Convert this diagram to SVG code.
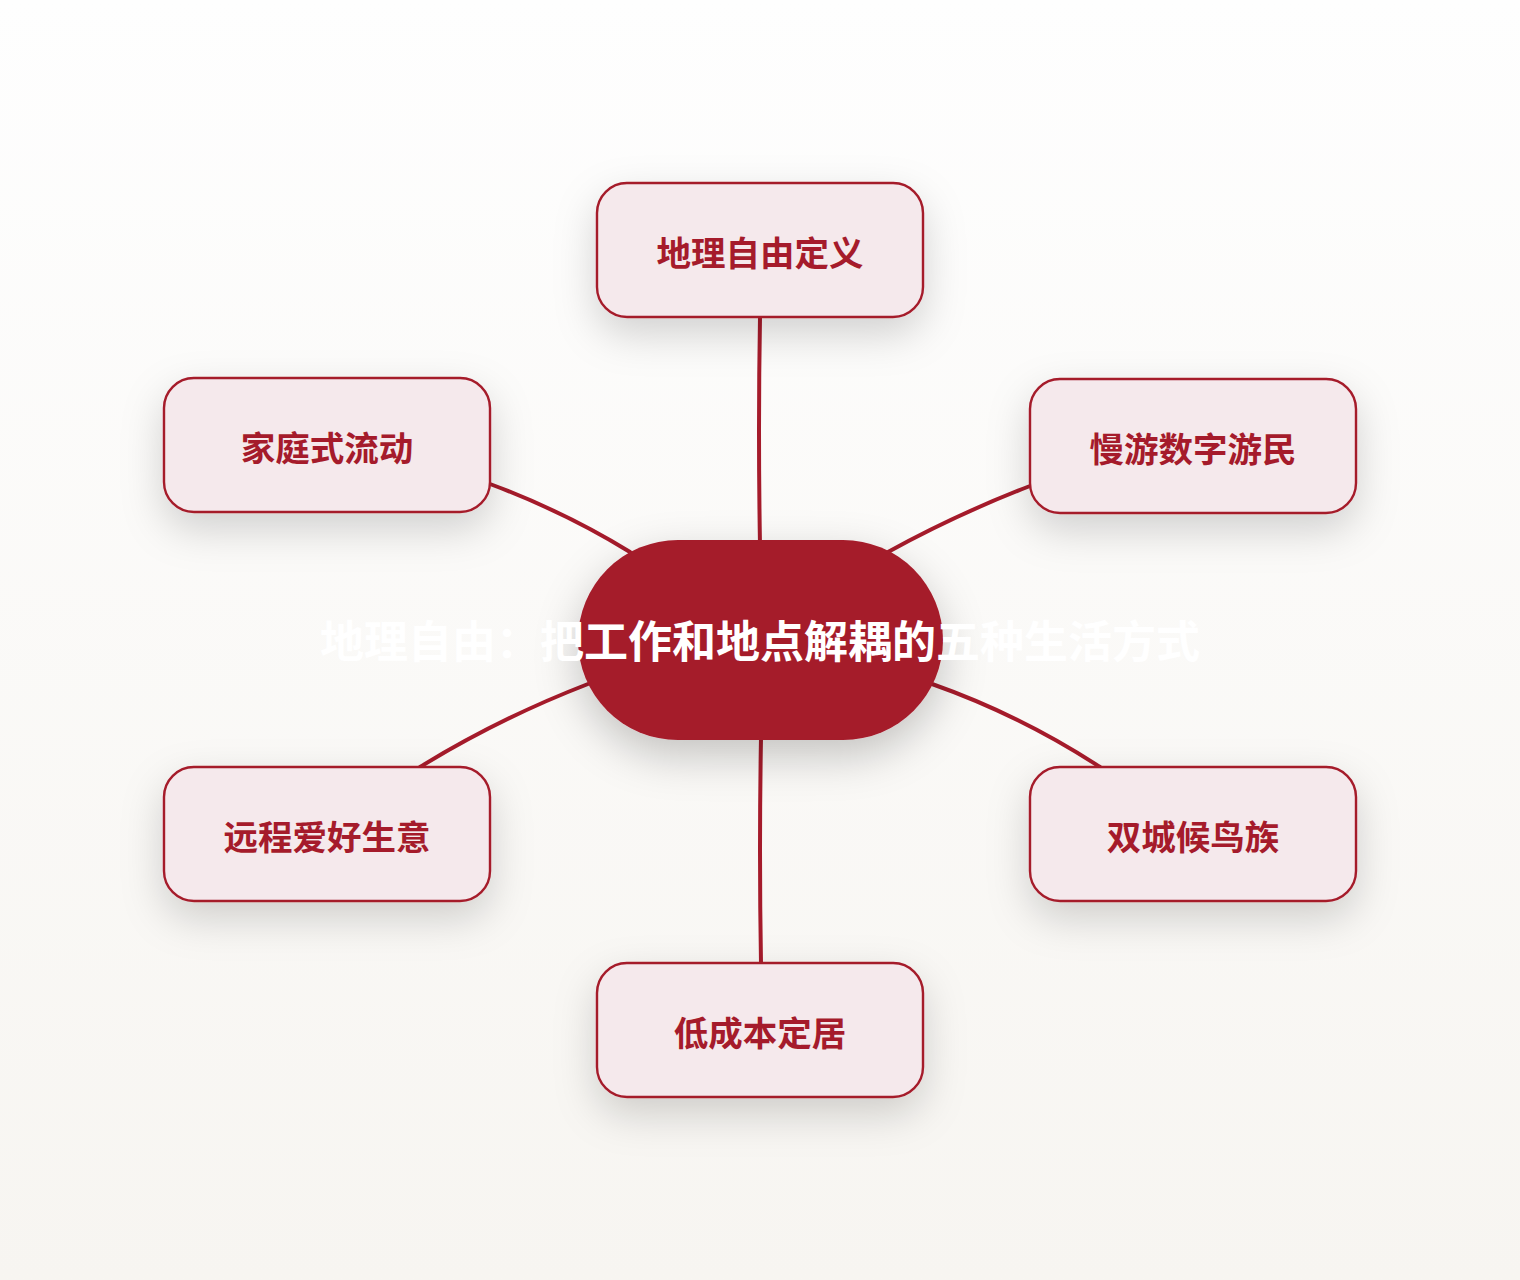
<svg xmlns="http://www.w3.org/2000/svg" width="1520" height="1280" viewBox="0 0 1520 1280">
<defs>
<linearGradient id="bg" x1="0" y1="0" x2="0" y2="1">
<stop offset="0" stop-color="#fefefe"/>
<stop offset="1" stop-color="#f7f5f1"/>
</linearGradient>
<filter id="sh" x="-40%" y="-50%" width="180%" height="210%">
<feDropShadow dx="0" dy="16" stdDeviation="20" flood-color="#000" flood-opacity="0.17"/>
</filter>
<filter id="shc" x="-40%" y="-50%" width="180%" height="210%">
<feDropShadow dx="0" dy="16" stdDeviation="22" flood-color="#000" flood-opacity="0.22"/>
</filter>
</defs>
<style>
.edge{fill:none;stroke:#a51b2b;stroke-width:4;stroke-linecap:round}
.box{fill:#f5e9ec;stroke:#a51b2b;stroke-width:2.4}
.lbl{font-family:"Noto Sans CJK SC","Noto Sans",sans-serif;font-weight:700;font-size:34.5px;fill:#a51b2b;text-anchor:middle}
.ctr{font-family:"Noto Sans CJK SC","Noto Sans",sans-serif;font-weight:700;font-size:44px;fill:#ffffff;text-anchor:middle}
</style>
<rect x="0" y="0" width="1520" height="1280" fill="url(#bg)"/>
<g id="connectors">
<path class="edge" d="M760 317 Q758 430 760 545"/>
<path class="edge" d="M490 484 Q565 512 630 552"/>
<path class="edge" d="M1030 486 Q955 515 888 552"/>
<path class="edge" d="M420 767 Q500 718 588 684"/>
<path class="edge" d="M1100 767 Q1020 715 932 684"/>
<path class="edge" d="M761 738 Q759 850 761 963"/>
</g>
<g id="node-top">
<rect class="box" x="597" y="183" width="326" height="134" rx="30" filter="url(#sh)"/>
<text class="lbl" x="760" y="266">地理自由定义</text>
</g>
<g id="node-left-top">
<rect class="box" x="164" y="378" width="326" height="134" rx="30" filter="url(#sh)"/>
<text class="lbl" x="327" y="461">家庭式流动</text>
</g>
<g id="node-right-top">
<rect class="box" x="1030" y="379" width="326" height="134" rx="30" filter="url(#sh)"/>
<text class="lbl" x="1193" y="462">慢游数字游民</text>
</g>
<g id="node-left-bottom">
<rect class="box" x="164" y="767" width="326" height="134" rx="30" filter="url(#sh)"/>
<text class="lbl" x="327" y="850">远程爱好生意</text>
</g>
<g id="node-right-bottom">
<rect class="box" x="1030" y="767" width="326" height="134" rx="30" filter="url(#sh)"/>
<text class="lbl" x="1193" y="850">双城候鸟族</text>
</g>
<g id="node-bottom">
<rect class="box" x="597" y="963" width="326" height="134" rx="30" filter="url(#sh)"/>
<text class="lbl" x="760" y="1046">低成本定居</text>
</g>
<g id="node-center">
<rect x="578" y="540" width="365" height="200" rx="100" fill="#a51b2b" filter="url(#shc)"/>
<text class="ctr" x="760" y="658">地理自由：把工作和地点解耦的五种生活方式</text>
</g>
</svg>
